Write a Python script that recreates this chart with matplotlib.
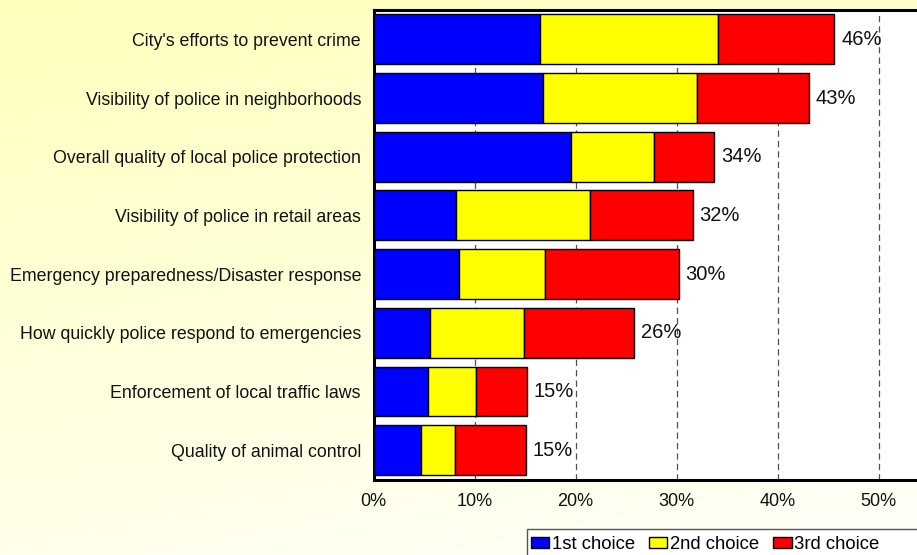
import numpy as np
import matplotlib
matplotlib.use('Agg')
import matplotlib.pyplot as plt
from matplotlib.patches import Rectangle

plt.rcParams['font.family'] = ['Liberation Sans', 'DejaVu Sans']
plt.rcParams['lines.scale_dashes'] = False

# survey items, top to bottom
items = ["City's efforts to prevent crime",
         "Visibility of police in neighborhoods",
         "Overall quality of local police protection",
         "Visibility of police in retail areas",
         "Emergency preparedness/Disaster response",
         "How quickly police respond to emergencies",
         "Enforcement of local traffic laws",
         "Quality of animal control"]

first = [16.5, 16.8, 19.6, 8.2, 8.5, 5.6, 5.4, 4.7]
second = [17.6, 15.2, 8.2, 13.2, 8.5, 9.3, 4.7, 3.4]
third = [11.5, 11.1, 5.9, 10.2, 13.2, 10.9, 5.1, 7.0]

series_names = ['1st choice', '2nd choice', '3rd choice']
series_colors = ['#0000FF', '#FFFF00', '#FF0000']
xticks = [0, 10, 20, 30, 40, 50]

W, H = 917, 555
fig = plt.figure(figsize=(W / 100, H / 100), dpi=100)

# soft yellow background fading towards white
bg = fig.add_axes([0, 0, 1, 1], zorder=-10)
yy, xx = np.mgrid[0:1:200j, 0:1:200j]
t = np.clip(0.75 * yy + 0.25 * xx, 0, 1)
img = np.zeros((200, 200, 3))
img[..., 0] = 1.0
img[..., 1] = 1.0
img[..., 2] = 0.74 + 0.24 * t
bg.imshow(img, aspect='auto', extent=[0, 1, 1, 0])
bg.set_axis_off()

ax = fig.add_axes([373.5 / W, 1 - 479.5 / H, 606 / W, 469.5 / H])
ax.set_facecolor('white')

y = np.arange(len(items))
left = np.zeros(len(items))
handles = []
for vals, name, col in zip([first, second, third], series_names, series_colors):
    b = ax.barh(y, vals, left=left, height=0.85, color=col,
                edgecolor='black', linewidth=1.0, label=name, zorder=3)
    handles.append(b)
    left = left + np.array(vals)

for yi, total in zip(y, left):
    ax.annotate(f'{int(round(total))}%', (total, yi), xytext=(5, 0),
                textcoords='offset points', va='center', ha='left',
                fontsize=14.5, color='#111111', zorder=4)

ax.set_ylim(len(items) - 0.5, -0.5)
ax.set_xlim(0, 60)
ax.set_yticks(y)
ax.set_yticklabels(items, fontsize=12.8, color='#111111')
ax.set_xticks(xticks)
ax.set_xticklabels([f'{v}%' for v in xticks], fontsize=13, color='#111111')
ax.tick_params(axis='y', length=0, pad=9)
ax.tick_params(axis='x', length=0, pad=10)

for v in xticks[1:] + [60]:
    ax.axvline(v, color='#505050', linewidth=0.9, linestyle=(0, (4.5, 3)), zorder=1)

for side in ['left', 'top', 'bottom']:
    ax.spines[side].set_linewidth(2.2)
    ax.spines[side].set_color('black')
ax.spines['right'].set_visible(False)

# legend box along the bottom edge
fig.patches.append(Rectangle((527 / W, -0.05), 0.5, 0.05 + 26 / H,
                             transform=fig.transFigure, facecolor='white',
                             edgecolor='#555555', linewidth=1.0, zorder=5))
fig.legend(handles=handles, loc='upper left',
           bbox_to_anchor=(527 / W, 1 - 532 / H), frameon=False,
           ncol=3, fontsize=13.3, handlelength=1.0, handleheight=0.55,
           handletextpad=0.15, columnspacing=0.75, borderpad=0.2,
           borderaxespad=0)

fig.savefig('out.png', dpi=100)
